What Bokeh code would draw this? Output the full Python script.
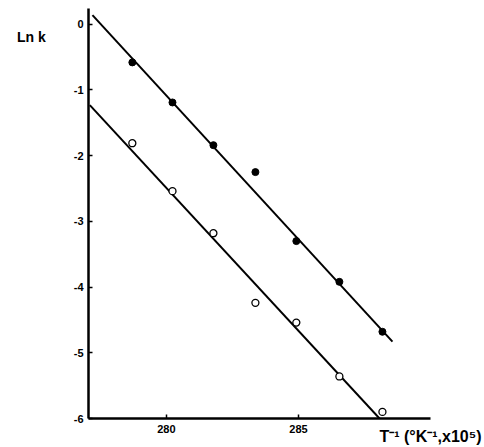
from bokeh.plotting import figure
from bokeh.models import FixedTicker
from bokeh.embed import file_html
from bokeh.resources import INLINE

# Data (x = 1/T in K^-1 x 10^5, y = ln k)
inv_T = [278.71, 280.23, 281.78, 283.37, 284.92, 286.55, 288.18]
lnk_filled = [-0.58, -1.19, -1.84, -2.25, -3.30, -3.92, -4.68]
lnk_open = [-1.81, -2.54, -3.18, -4.24, -4.54, -5.36, -5.90]

# Regression lines as drawn (endpoints in data units)
fit_filled_x = [277.2, 288.56]
fit_filled_y = [0.14, -4.83]
fit_open_x = [277.1, 288.07]
fit_open_y = [-1.23, -6.0]

x_ticks = [280, 285]
y_ticks = [-6, -5, -4, -3, -2, -1, 0]
x_label = "T\u207b\u00b9 (\u00b0K\u207b\u00b9,x10\u2075)"
y_label = "\n\n\nLn k"

p = figure(width=484, height=447, x_range=(277.05, 290.0), y_range=(-6.0, 0.24),
           output_backend="svg", toolbar_location=None,
           min_border_left=88, min_border_right=54, min_border_top=8, min_border_bottom=28)
p.outline_line_color = None
p.xgrid.visible = False
p.ygrid.visible = False
p.background_fill_color = "white"
p.border_fill_color = "white"

for ax in (p.xaxis, p.yaxis):
    ax.axis_line_width = 2.5
    ax.axis_line_color = "black"
    ax.major_tick_in = 4
    ax.major_tick_out = 0
    ax.major_tick_line_width = 1.5
    ax.minor_tick_line_color = None
    ax.major_label_text_font = "Liberation Sans"
    ax.major_label_text_font_style = "bold"
    ax.major_label_text_font_size = "11px"
    ax.major_label_text_color = "black"
    ax.axis_label_text_font = "Liberation Sans"
    ax.axis_label_text_font_style = "bold"
    ax.axis_label_text_color = "black"
    ax.axis_label_align = "end"

p.xaxis.ticker = FixedTicker(ticks=x_ticks)
p.yaxis.ticker = FixedTicker(ticks=y_ticks)
p.yaxis.major_label_overrides = {t: str(t) for t in y_ticks}
p.xaxis.major_label_standoff = 6
p.yaxis.major_label_standoff = 5

p.xaxis.axis_label = x_label
p.xaxis.axis_label_text_font_size = "16px"
p.xaxis.axis_label_standoff = -8

p.yaxis.axis_label = y_label
p.yaxis.axis_label_text_font_size = "14px"
p.yaxis.axis_label_orientation = "horizontal"
p.yaxis.axis_label_standoff = 25

p.line(fit_filled_x, fit_filled_y, line_color="black", line_width=2)
p.line(fit_open_x, fit_open_y, line_color="black", line_width=2)

p.scatter(inv_T, lnk_filled, size=7, marker="circle", fill_color="black", line_color="black")
p.scatter(inv_T, lnk_open, size=7, marker="circle", fill_color="white", line_color="black", line_width=1.3)

open("out.html", "w").write(file_html(p, INLINE))
